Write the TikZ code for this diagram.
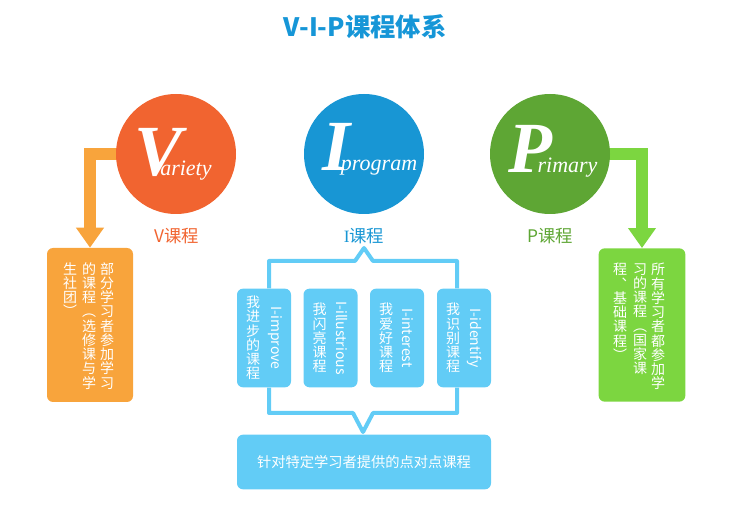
\documentclass[tikz,border=0pt]{standalone}
\usepackage{fontspec}
\setmainfont{Noto Sans CJK SC}
\newfontfamily\lserif{Liberation Serif}
\usetikzlibrary{arrows.meta,positioning,calc}
\definecolor{vred}{RGB}{241,100,48}
\definecolor{vorange}{RGB}{248,164,60}
\definecolor{iblue}{RGB}{24,150,212}
\definecolor{ilight}{RGB}{98,204,246}
\definecolor{pgreen}{RGB}{94,166,52}
\definecolor{plight}{RGB}{124,214,64}
\definecolor{titleblue}{RGB}{22,150,215}
\newcommand{\bigch}[1]{{\bfseries\fontsize{54}{54}\selectfont #1}}
\newcommand{\smallch}[1]{{\fontsize{16.5}{16.5}\selectfont #1}}

\begin{document}
\begin{tikzpicture}[x=0.75pt, y=-0.75pt,
  ball/.style={circle, minimum size=90pt, inner sep=0},
  circtxt/.style={font=\lserif\itshape, text=white, inner sep=0, anchor=base west},
  lab/.style={font=\fontsize{13}{13}\selectfont},
  card/.style={rectangle, rounded corners=4.5pt, inner sep=0},
  icard/.style={card, fill=ilight, minimum width=40.5pt, minimum height=74pt},
  vcol/.style={font=\fontsize{10.5}{10.7}\selectfont, text=white, align=center, inner sep=0},
  rcol/.style={font=\fontsize{10.5}{10.5}\selectfont, text=white, inner sep=0, rotate=-90},
  bandarr/.style={line width=9pt, -{Triangle[width=20pt,length=15pt]}},
  ibrace/.style={draw=ilight, line width=3pt, line join=round}
]
  \useasboundingbox (0,0) rectangle (743,520);

  % title
  \node[font=\bfseries\fontsize{19}{19}\selectfont, text=titleblue] (title) at (365,27) {V-I-P课程体系};

  % boxes
  \node[card, fill=vorange, minimum width=64.5pt, minimum height=115.5pt] (vbox) at (90,325) {};
  \node[card, fill=plight, minimum width=65pt, minimum height=115pt] (pbox) at (642,325) {};
  \node[icard] (i1) at (264,338) {};
  \node[icard] (i2) at (330.5,338) {};
  \node[icard] (i3) at (397,338) {};
  \node[icard] (i4) at (464,338) {};
  \node[card, fill=ilight, minimum width=190.5pt, minimum height=41pt, text=white,
        font=\fontsize{10.7}{10.7}\selectfont] (ibot) at (364,462) {针对特定学习者提供的点对点课程};

  % arrows from the circles
  \draw[bandarr, vorange] ($(176,154)+(-30,0)$) -| (vbox.north);
  \draw[bandarr, plight] ($(550,154)+(30,0)$) -| (pbox.north);

  % circles
  \node[ball, fill=vred] (vc) at (176,154) {};
  \node[ball, fill=iblue] (ic) at (364,154) {};
  \node[ball, fill=pgreen] (pc) at (550,154) {};

  \node[circtxt] (vtxt) at (134,176) {\bigch{V}\kern-16.5pt\smallch{ariety}};
  \node[circtxt] (itxt) at (322,171) {\bigch{I}\kern-7pt\smallch{program}};
  \node[circtxt] (ptxt) at (508,173) {\bigch{P}\kern-11pt\smallch{rimary}};

  \node[lab, text=vred] (vlab) at (177,236) {V课程};
  \node[lab, text=iblue] (ilab) at (364,236) {{\lserif I}课程};
  \node[lab, text=pgreen] (plab) at (550,236) {P课程};

  % brackets round the I cards
  \coordinate (ipeak) at (364,248);
  \coordinate (inotch) at (363,432);
  \draw[ibrace] ($(i1.north)+(5,0)$) |- ($(ipeak)+(-9,13)$) -- (ipeak) -- ($(ipeak)+(9,13)$) -| ($(i4.north)+(-7,0)$);
  \draw[ibrace] ($(i1.south)+(5,0)$) |- ($(inotch)+(-10,-19)$) -- (inotch) -- ($(inotch)+(10,-19)$) -| ($(i4.south)+(-7,0)$);

  % V text
  \node[vcol, anchor=north] (vt1) at (107,262) {部\\分\\学\\习\\者\\参\\加\\学\\习};
  \node[vcol, anchor=north] (vt2) at (89,262) {的\\课\\程\\︵\\选\\修\\课\\与\\学};
  \node[vcol, anchor=north] (vt3) at (70,262) {生\\社\\团\\︶};

  % P text
  \node[vcol, anchor=north] (pt1) at (658,263) {所\\有\\学\\习\\者\\都\\参\\加\\学};
  \node[vcol, anchor=north] (pt2) at (640,263) {习\\的\\课\\程\\︵\\国\\家\\课};
  \node[vcol, anchor=north] (pt3) at (620,263) {程\\︑\\基\\础\\课\\程\\︶};

  % I text
  \node[vcol] (i1c) at ($(i1.center)+(-11,0)$) {我\\进\\步\\的\\课\\程};
  \node[rcol] (i1l) at ($(i1.center)+(11,0)$) {I-improve};
  \node[vcol] (i2c) at ($(i2.center)+(-11,0)$) {我\\闪\\亮\\课\\程};
  \node[rcol] (i2l) at ($(i2.center)+(11,0)$) {I-illustrious};
  \node[vcol] (i3c) at ($(i3.center)+(-11,0)$) {我\\爱\\好\\课\\程};
  \node[rcol] (i3l) at ($(i3.center)+(11,0)$) {I-interest};
  \node[vcol] (i4c) at ($(i4.center)+(-11,0)$) {我\\识\\别\\课\\程};
  \node[rcol] (i4l) at ($(i4.center)+(11,0)$) {I-identify};
\end{tikzpicture}
\end{document}
